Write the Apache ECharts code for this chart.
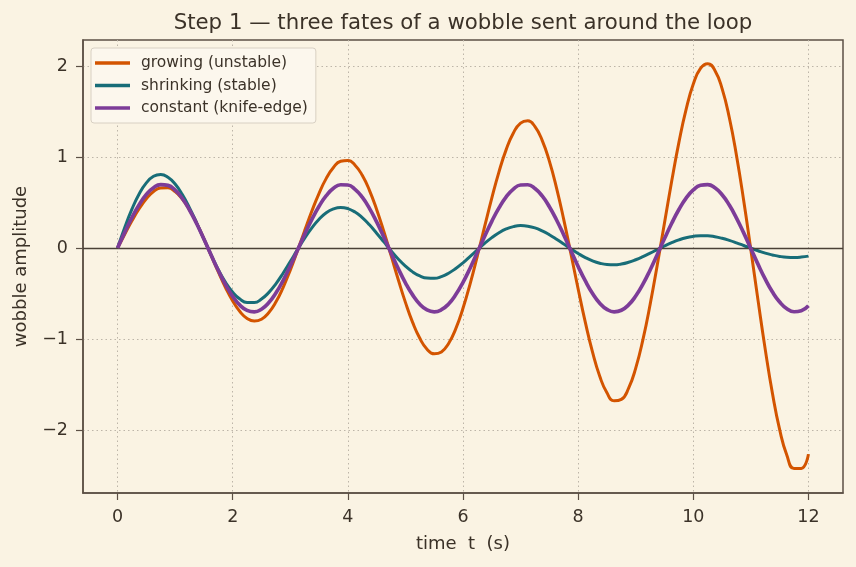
<!DOCTYPE html>
<html>
<head>
<meta charset="utf-8">
<script src="https://cdn.jsdelivr.net/npm/echarts@6/dist/echarts.min.js"></script>
<style>
  html, body { margin: 0; padding: 0; background: #faf3e3; }
  #chart { width: 856px; height: 567px; }
</style>
</head>
<body>
<div id="chart"></div>
<script>
// time samples (s), one row per 2 s
var times = [
  0, 0.125, 0.25, 0.375, 0.5, 0.625, 0.75, 0.875, 1, 1.125, 1.25, 1.375, 1.5, 1.625, 1.75, 1.875,
  2, 2.125, 2.25, 2.375, 2.5, 2.625, 2.75, 2.875, 3, 3.125, 3.25, 3.375, 3.5, 3.625, 3.75, 3.875,
  4, 4.125, 4.25, 4.375, 4.5, 4.625, 4.75, 4.875, 5, 5.125, 5.25, 5.375, 5.5, 5.625, 5.75, 5.875,
  6, 6.125, 6.25, 6.375, 6.5, 6.625, 6.75, 6.875, 7, 7.125, 7.25, 7.375, 7.5, 7.625, 7.75, 7.875,
  8, 8.125, 8.25, 8.375, 8.5, 8.625, 8.75, 8.875, 9, 9.125, 9.25, 9.375, 9.5, 9.625, 9.75, 9.875,
  10, 10.125, 10.25, 10.375, 10.5, 10.625, 10.75, 10.875, 11, 11.125, 11.25, 11.375, 11.5, 11.625, 11.75, 11.875,
  12
];

var growing = [
  0, 0.152, 0.300, 0.432, 0.542, 0.621, 0.661, 0.662, 0.621, 0.539, 0.421, 0.272, 0.102, -0.080, -0.262, -0.433,
  -0.581, -0.697, -0.773, -0.802, -0.781, -0.710, -0.593, -0.433, -0.242, -0.029, 0.192, 0.407, 0.602, 0.766, 0.886, 0.954,
  0.963, 0.911, 0.800, 0.635, 0.425, 0.182, -0.080, -0.345, -0.596, -0.816, -0.991, -1.110, -1.161, -1.140, -1.047, -0.885,
  -0.661, -0.389, -0.084, 0.235, 0.549, 0.838, 1.082, 1.265, 1.373, 1.398, 1.334, 1.184, 0.956, 0.660, 0.313, -0.065,
  -0.449, -0.816, -1.143, -1.408, -1.590, -1.678, -1.662, -1.541, -1.318, -1.005, -0.619, -0.182, 0.279, 0.736, 1.161, 1.524,
  1.802, 1.974, 2.026, 1.952, 1.752, 1.435, 1.017, 0.523, -0.020, -0.577, -1.115, -1.598, -1.994, -2.276, -2.422, -2.420,
  -2.263
];

var shrinking = [
  0, 0.226, 0.428, 0.594, 0.716, 0.789, 0.809, 0.779, 0.704, 0.588, 0.442, 0.275, 0.099, -0.074, -0.236, -0.375,
  -0.485, -0.560, -0.597, -0.597, -0.559, -0.489, -0.392, -0.276, -0.148, -0.017, 0.109, 0.222, 0.317, 0.389, 0.431, 0.447,
  0.434, 0.396, 0.335, 0.256, 0.164, 0.068, -0.029, -0.119, -0.197, -0.261, -0.305, -0.329, -0.331, -0.313, -0.276, -0.224,
  -0.162, -0.091, -0.019, 0.051, 0.115, 0.169, 0.210, 0.236, 0.247, 0.241, 0.222, 0.189, 0.147, 0.098, 0.045, -0.009,
  -0.059, -0.104, -0.140, -0.166, -0.181, -0.184, -0.175, -0.156, -0.128, -0.094, -0.056, -0.016, 0.023, 0.059, 0.090, 0.114,
  0.129, 0.136, 0.135, 0.125, 0.108, 0.085, 0.058, 0.029, -0.001, -0.029, -0.055, -0.075, -0.091, -0.100, -0.102, -0.098,
  -0.088
];

var constant = [
  0, 0.173, 0.336, 0.477, 0.589, 0.664, 0.698, 0.689, 0.637, 0.545, 0.419, 0.267, 0.099, -0.076, -0.246, -0.400,
  -0.530, -0.627, -0.684, -0.700, -0.671, -0.601, -0.494, -0.356, -0.196, -0.023, 0.151, 0.315, 0.460, 0.576, 0.657, 0.696,
  0.693, 0.646, 0.559, 0.437, 0.288, 0.122, -0.053, -0.224, -0.381, -0.514, -0.616, -0.679, -0.700, -0.677, -0.613, -0.510,
  -0.376, -0.218, -0.046, 0.128, 0.294, 0.442, 0.563, 0.648, 0.693, 0.696, 0.654, 0.573, 0.455, 0.309, 0.145, -0.029,
  -0.202, -0.361, -0.498, -0.605, -0.673, -0.700, -0.683, -0.624, -0.526, -0.395, -0.240, -0.070, 0.105, 0.273, 0.424, 0.549,
  0.639, 0.690, 0.698, 0.662, 0.586, 0.473, 0.330, 0.167, -0.006, -0.179, -0.341, -0.482, -0.592, -0.666, -0.699, -0.688,
  -0.634
];

var xTicks = [0, 2, 4, 6, 8, 10, 12];
var yTicks = [-2, -1, 0, 1, 2];

function pairs(ys) {
  return times.map(function (t, i) { return [t, ys[i]]; });
}

var ink = '#3b3228';
var frame = '#5c5045';
var font = 'DejaVu Sans';

var chart = echarts.init(document.getElementById('chart'), null, { renderer: 'canvas' });

var option = {
  backgroundColor: '#faf3e3',
  animation: false,
  textStyle: { fontFamily: font, color: ink },
  title: {
    text: 'Step 1 \u2014 three fates of a wobble sent around the loop',
    left: 458,
    textAlign: 'center',
    top: 8,
    textStyle: { fontFamily: font, fontSize: 21.3, fontWeight: 'normal', color: ink }
  },
  legend: {
    orient: 'vertical',
    left: 91,
    top: 48,
    padding: [7, 8, 7, 4],
    itemGap: 6.5,
    itemWidth: 35,
    itemHeight: 3.5,
    icon: 'rect',
    backgroundColor: '#fcf7ed',
    borderColor: '#d8d0c3',
    borderWidth: 1,
    borderRadius: 3,
    textStyle: { fontFamily: font, fontSize: 15.5, color: ink, lineHeight: 16, padding: [0, 0, 0, 6] },
    data: ['growing (unstable)', 'shrinking (stable)', 'constant (knife-edge)']
  },
  grid: {
    left: 83,
    right: 13,
    top: 40,
    bottom: 74,
    show: true,
    borderColor: frame,
    borderWidth: 1.5,
    backgroundColor: 'transparent'
  },
  xAxis: {
    type: 'value',
    min: -0.6,
    max: 12.6,
    name: 'time  t  (s)',
    nameLocation: 'middle',
    nameGap: 42,
    nameTextStyle: { fontFamily: font, fontSize: 18, color: ink },
    axisLine: { show: true, onZero: false, lineStyle: { color: frame, width: 1.5 } },
    axisTick: { show: true, customValues: xTicks, length: 7, lineStyle: { color: frame, width: 1.2 } },
    axisLabel: { customValues: xTicks, margin: 15, fontFamily: font, fontSize: 17.5, color: ink },
    splitLine: { show: true, lineStyle: { color: '#bdb5a8', type: [1.5, 3], width: 1 } }
  },
  yAxis: {
    type: 'value',
    min: -2.69,
    max: 2.286,
    name: 'wobble amplitude',
    nameLocation: 'middle',
    nameGap: 53,
    nameTextStyle: { fontFamily: font, fontSize: 18, color: ink },
    axisLine: { show: true, onZero: false, lineStyle: { color: frame, width: 1.5 } },
    axisTick: { show: true, customValues: yTicks, length: 7, lineStyle: { color: frame, width: 1.2 } },
    axisLabel: {
      customValues: yTicks,
      margin: 15,
      fontFamily: font,
      fontSize: 17.5,
      color: ink,
      formatter: function (v) { return v < 0 ? '\u2212' + Math.abs(v) : String(v); }
    },
    splitLine: { show: true, lineStyle: { color: '#bdb5a8', type: [1.5, 3], width: 1 } }
  },
  series: [
    {
      name: 'growing (unstable)',
      type: 'line',
      data: pairs(growing),
      smooth: 0.5,
      showSymbol: false,
      lineStyle: { color: '#d35400', width: 3 },
      itemStyle: { color: '#d35400' },
      markLine: {
        silent: true,
        symbol: ['none', 'none'],
        label: { show: false },
        lineStyle: { color: '#4a4036', width: 1.4, type: 'solid' },
        data: [{ yAxis: 0 }]
      },
      z: 3
    },
    {
      name: 'shrinking (stable)',
      type: 'line',
      data: pairs(shrinking),
      smooth: 0.5,
      showSymbol: false,
      lineStyle: { color: '#186d78', width: 3 },
      itemStyle: { color: '#186d78' },
      z: 4
    },
    {
      name: 'constant (knife-edge)',
      type: 'line',
      data: pairs(constant),
      smooth: 0.5,
      showSymbol: false,
      lineStyle: { color: '#7d3c98', width: 3.7 },
      itemStyle: { color: '#7d3c98' },
      z: 5
    }
  ]
};

chart.setOption(option);
</script>
</body>
</html>
